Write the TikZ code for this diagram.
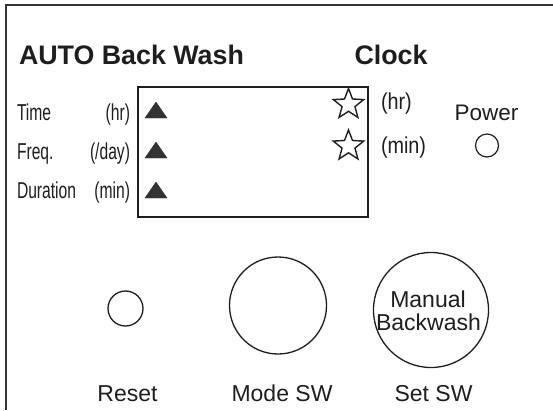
\documentclass[tikz,border=0pt]{standalone}
\usepackage{fontspec}
\setmainfont{Liberation Sans}
\newfontfamily\narrowf[FakeStretch=0.68]{Liberation Sans}
\newfontfamily\midf[FakeStretch=0.86]{Liberation Sans}
\definecolor{ink}{HTML}{1E1E1E}
\definecolor{trifill}{HTML}{333333}
\begin{document}
\begin{tikzpicture}[x=1bp,y=-1bp,
  every node/.style={inner sep=0pt, outer sep=0pt, text=ink},
  titletext/.style={font=\fontsize{26.8bp}{30bp}\selectfont\bfseries, anchor=base west},
  lbltext/.style={font=\narrowf\fontsize{23bp}{24bp}\selectfont},
  unittext/.style={font=\midf\fontsize{23bp}{24bp}\selectfont, anchor=base west},
  captext/.style={font=\fontsize{23bp}{23bp}\selectfont, anchor=base},
  ring/.style={circle, draw=ink, line width=1.3bp, minimum size=#1, inner sep=0pt},
  tri/.style={fill=trifill, draw=trifill, line width=0.4bp, line join=round},
  starline/.style={draw=ink, line width=1.4bp, line join=miter}
]
\useasboundingbox (0,0) rectangle (553,410);
% outer frame (only top and left edges visible)
\coordinate (fbl) at (6,410);
\coordinate (ftl) at (6,5);
\coordinate (ftr) at (553,5);
\draw[draw=ink!90, line width=2bp] (fbl) -- (ftl) -- (ftr);

% titles
\node[titletext] (title) at (19,64) {AUTO Back Wash};
\node[titletext] (clock) at (354.5,64) {Clock};

% display box
\node[draw=ink, line width=1.3bp, minimum width=230bp, minimum height=130bp, anchor=north west] (disp) at (138,87) {};

% left labels
\node[lbltext, anchor=base west] (ltime) at (17,120) {Time};
\node[lbltext, anchor=base west] (lfreq) at (17,159) {Freq.};
\node[lbltext, anchor=base west] (ldur) at (17,198) {Duration};
\node[lbltext, anchor=base east] (uhr) at (130,120) {(hr)};
\node[lbltext, anchor=base east] (uday) at (130,159) {(/day)};
\node[lbltext, anchor=base east] (umin) at (130,198) {(min)};

% triangles
\foreach \b in {118,158,198}{
  \fill[tri] (145,\b) -- (167,\b) -- (156,\b-16) -- cycle;
}

% stars (outer radius 16, inner 6.8)
\foreach \cy in {104.5,146}{
  \draw[starline]
    (348.5,\cy) ++(0,-16)
    \foreach \k in {1,...,9}{
      \ifodd\k
        -- ({348.5+6.8*sin(36*\k)}, {\cy-6.8*cos(36*\k)})
      \else
        -- ({348.5+16*sin(36*\k)}, {\cy-16*cos(36*\k)})
      \fi
    } -- cycle;
}

% clock units
\node[unittext] (chr) at (381,109.5) {(hr)};
\node[unittext] (cmin) at (381,153) {(min)};

% power
\node[captext, font=\fontsize{22.5bp}{23bp}\selectfont] (power) at (486.5,120) {Power};
\node[ring=23bp, line width=1.2bp] (pled) at (487,145.5) {};

% buttons
\node[ring=35bp] (reset) at (125.5,308.5) {};
\node[ring=97bp] (mode) at (278,305.5) {};
\node[ring=115bp] (setsw) at (431,310) {};
\node[captext] (manual) at (428,307) {Manual};
\node[captext] (bkw) at (428.5,330) {Backwash};

% bottom labels
\node[captext] (lreset) at (127.5,401) {Reset};
\node[captext] (lmode) at (282,401) {Mode SW};
\node[captext] (lset) at (433.5,401) {Set SW};
\end{tikzpicture}
\end{document}
